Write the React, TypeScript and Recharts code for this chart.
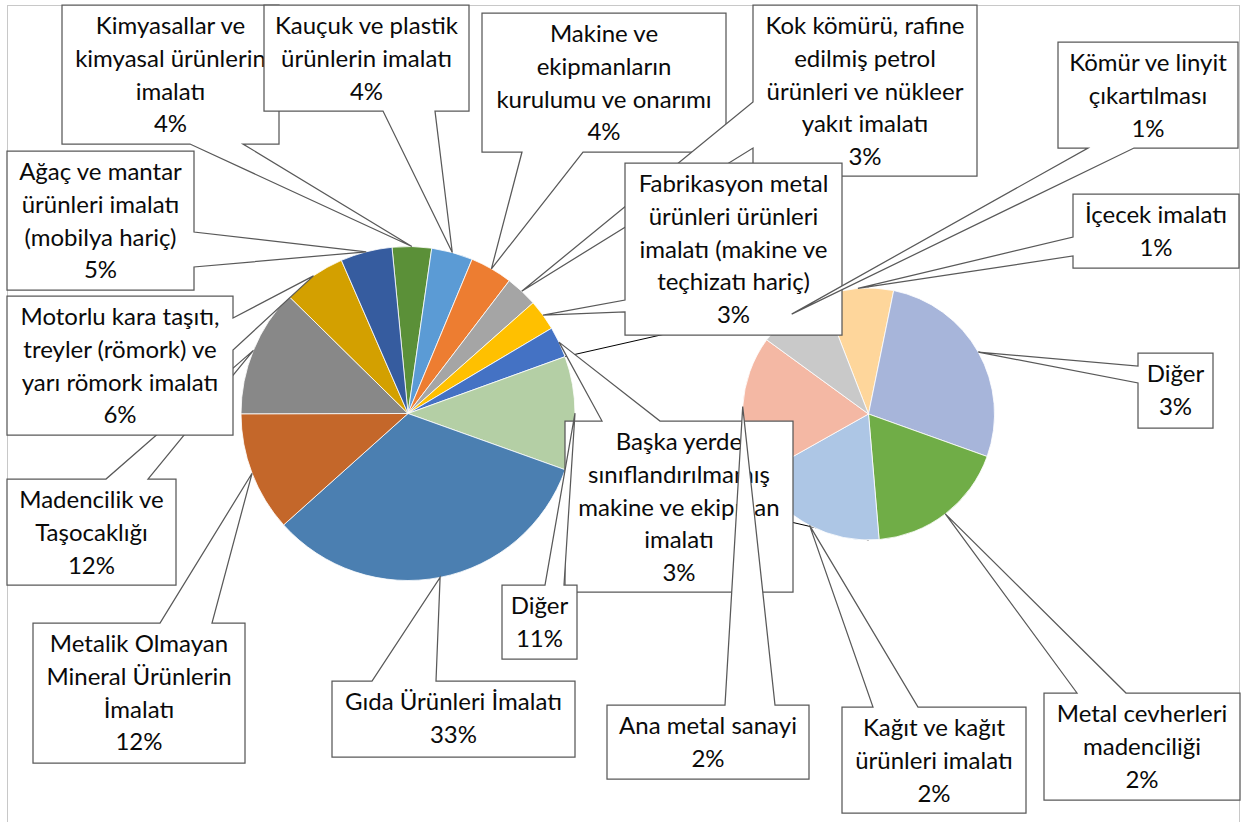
import { PieChart, Pie, Cell } from 'recharts';

// main pie, clockwise from the top
const leftCategories = [
  'Kimyasallar ve\nkimyasal ürünlerin\nimalatı',
  'Kauçuk ve plastik\nürünlerin imalatı',
  'Makine ve\nekipmanların\nkurulumu ve onarımı',
  'Kok kömürü, rafine\nedilmiş petrol\nürünleri ve nükleer\nyakıt imalatı',
  'Fabrikasyon metal\nürünleri ürünleri\nimalatı (makine ve\nteçhizatı hariç)',
  'Başka yerde\nsınıflandırılmamış\nmakine ve ekipman\nimalatı',
  'Diğer',
  'Gıda Ürünleri İmalatı',
  'Metalik Olmayan\nMineral Ürünlerin\nİmalatı',
  'Madencilik ve\nTaşocaklığı',
  'Motorlu kara taşıtı,\ntreyler (römork) ve\nyarı römork imalatı',
  'Ağaç ve mantar\nürünleri imalatı\n(mobilya hariç)',
];
const leftValues = [3.8, 4.0, 4.1, 3.1, 3.0, 3.0, 11.0, 32.9, 11.6, 12.4, 6.1, 5.0];

// secondary pie = breakdown of "Diğer"
const rightCategories = [
  'İçecek imalatı',
  'Diğer',
  'Metal cevherleri\nmadenciliği',
  'Kağıt ve kağıt\nürünleri imalatı',
  'Ana metal sanayi',
  'Kömür ve linyit\nçıkartılması',
];
const rightValues = [1, 3, 2, 2, 2, 1];

const leftColors = ['#5b9038', '#5b9bd5', '#ed7d31', '#a5a5a5', '#ffc000', '#4472c4', '#b4cfa5', '#4b7fb1', '#c4672a', '#888888', '#d3a000', '#365c9f'];
const rightColors = ['#fed69b', '#a7b5da', '#70ad47', '#adc6e5', '#f4b8a4', '#c9c9c9'];

// callouts were dragged by hand in the sheet: box [x1,y1,x2,y2], side of the pointer, pointer base
const leftCallouts = [
  { box: [62, 5, 279, 144], side: 'bottom', base: [190, 243] },
  { box: [264, 5, 469, 111], side: 'bottom', base: [383, 435] },
  { box: [482, 13, 726, 152], side: 'bottom', base: [522, 583] },
  { box: [753, 5, 977, 176], side: 'left', base: [102, 148] },
  { box: [625, 163, 842, 335], side: 'left', base: [300, 312] },
  { box: [565, 421, 793, 592], side: 'top', base: [602, 660] },
  { box: [502, 585, 577, 659], side: 'top', base: [545, 564] },
  { box: [332, 681, 575, 757], side: 'top', base: [372, 436] },
  { box: [33, 623, 245, 763], side: 'top', base: [160, 212] },
  { box: [7, 479, 176, 585], side: 'top', base: [106, 148] },
  { box: [7, 296, 233, 435], side: 'right', base: [318, 350] },
  { box: [7, 151, 194, 290], side: 'right', base: [232, 267] },
];
const rightCallouts = [
  { box: [1073, 194, 1239, 268], side: 'left', base: [237, 256] },
  { box: [1138, 353, 1213, 428], side: 'left', base: [366, 383] },
  { box: [1044, 693, 1240, 800], side: 'top', base: [1077, 1126] },
  { box: [842, 707, 1026, 813], side: 'top', base: [873, 918] },
  { box: [607, 705, 809, 779], side: 'top', base: [725, 775] },
  { box: [1058, 42, 1238, 148], side: 'bottom', base: [1088, 1134] },
];

const W = 1243;
const H = 822;
const LEFT = { cx: 408, cy: 413.5, r: 167, start: 95.5 };
const RIGHT = { cx: 868.5, cy: 414, r: 126, start: 111.2 };
const FONT = 'Lato, sans-serif';
const FONT_SIZE = 24;
const LINE_H = 32.8;
const RAD = Math.PI / 180;

const leftData = leftCategories.map((name, i) => ({ name, value: leftValues[i] }));
const rightData = rightCategories.map((name, i) => ({ name, value: rightValues[i] }));

function makeCallout(layout: any[]) {
  return (props: any) => {
    const { cx, cy, midAngle, outerRadius, index, value } = props;
    const c = layout[index];
    if (!c) return null;
    const tx = cx + outerRadius * Math.cos(-midAngle * RAD);
    const ty = cy + outerRadius * Math.sin(-midAngle * RAD);
    const [x1, y1, x2, y2] = c.box;
    const [a, b] = c.base;
    const pts: number[][] = [[x1, y1]];
    if (c.side === 'top') pts.push([a, y1], [tx, ty], [b, y1]);
    pts.push([x2, y1]);
    if (c.side === 'right') pts.push([x2, a], [tx, ty], [x2, b]);
    pts.push([x2, y2]);
    if (c.side === 'bottom') pts.push([b, y2], [tx, ty], [a, y2]);
    pts.push([x1, y2]);
    if (c.side === 'left') pts.push([x1, b], [tx, ty], [x1, a]);
    const d = 'M' + pts.map((p) => `${p[0]},${p[1]}`).join('L') + 'Z';
    const name = props.name ?? props.payload?.name ?? '';
    const lines = [...String(name).split('\n'), `${Math.round(value)}%`];
    const mid = (x1 + x2) / 2;
    return (
      <g key={`callout-${index}`}>
        <path d={d} fill="#ffffff" stroke="#595959" strokeWidth={1.25} />
        <text textAnchor="middle" fontFamily={FONT} fontSize={FONT_SIZE} fill="#0a0a0a">
          {lines.map((ln, i) => (
            <tspan key={i} x={mid} y={y1 + 29 + i * LINE_H}>
              {ln}
            </tspan>
          ))}
        </text>
      </g>
    );
  };
}

// series lines from the edges of "Diğer" to the top and bottom of the second pie
function SeriesLines() {
  const total = leftValues.reduce((s, v) => s + v, 0);
  const k = leftCategories.indexOf('Diğer');
  const before = leftValues.slice(0, k).reduce((s, v) => s + v, 0);
  const t0 = 90 - LEFT.start;
  const a1 = (t0 + (360 * before) / total) * RAD;
  const a2 = (t0 + (360 * (before + leftValues[k])) / total) * RAD;
  const p1 = [LEFT.cx + LEFT.r * Math.sin(a1), LEFT.cy - LEFT.r * Math.cos(a1)];
  const p2 = [LEFT.cx + LEFT.r * Math.sin(a2), LEFT.cy - LEFT.r * Math.cos(a2)];
  return (
    <g>
      <line x1={p1[0]} y1={p1[1]} x2={RIGHT.cx} y2={RIGHT.cy - RIGHT.r} stroke="#000" strokeWidth={1} />
      <line x1={p2[0]} y1={p2[1]} x2={RIGHT.cx} y2={RIGHT.cy + RIGHT.r} stroke="#000" strokeWidth={1} />
    </g>
  );
}

export default function App() {
  return (
    <div style={{ position: 'absolute', left: 0, top: 0, width: W, height: H, background: '#fff' }}>
      <PieChart width={W} height={H} margin={{ top: 0, right: 0, bottom: 0, left: 0 }}>
        <rect x={7.5} y={5.5} width={1232} height={840} fill="#fff" stroke="#c8c8c8" strokeWidth={1} />
        <SeriesLines />
        <Pie
          data={rightData}
          dataKey="value"
          nameKey="name"
          cx={RIGHT.cx}
          cy={RIGHT.cy}
          outerRadius={RIGHT.r}
          startAngle={RIGHT.start}
          endAngle={RIGHT.start - 360}
          stroke="#ffffff"
          strokeWidth={0.8}
          isAnimationActive={false}
        >
          {rightData.map((d, i) => (
            <Cell key={d.name} fill={rightColors[i]} />
          ))}
        </Pie>
        <Pie
          data={leftData}
          dataKey="value"
          nameKey="name"
          cx={LEFT.cx}
          cy={LEFT.cy}
          outerRadius={LEFT.r}
          startAngle={LEFT.start}
          endAngle={LEFT.start - 360}
          stroke="#ffffff"
          strokeWidth={0.8}
          label={makeCallout(leftCallouts)}
          labelLine={false}
          isAnimationActive={false}
        >
          {leftData.map((d, i) => (
            <Cell key={d.name} fill={leftColors[i]} />
          ))}
        </Pie>
        {/* same slices again, only to put the secondary callouts on top */}
        <Pie
          data={rightData}
          dataKey="value"
          nameKey="name"
          cx={RIGHT.cx}
          cy={RIGHT.cy}
          outerRadius={RIGHT.r}
          startAngle={RIGHT.start}
          endAngle={RIGHT.start - 360}
          fill="transparent"
          stroke="none"
          label={makeCallout(rightCallouts)}
          labelLine={false}
          isAnimationActive={false}
        />
      </PieChart>
    </div>
  );
}
